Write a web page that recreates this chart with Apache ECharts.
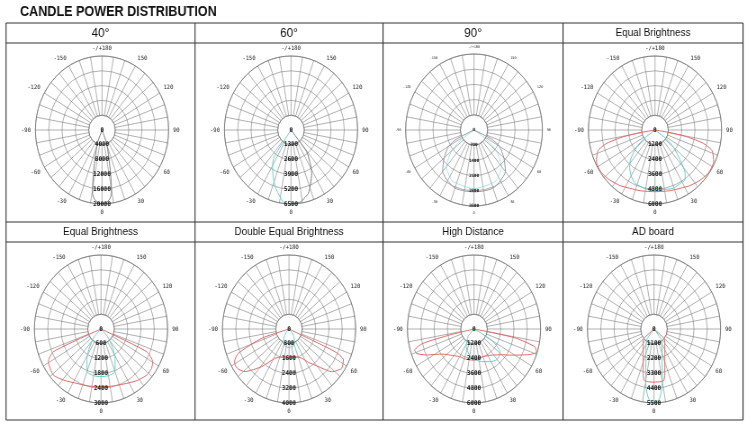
<!DOCTYPE html>
<html><head><meta charset="utf-8">
<script src="https://cdn.jsdelivr.net/npm/echarts@6/dist/echarts.min.js"></script>
<style>
html,body{margin:0;padding:0;background:#fff;overflow:hidden}
#wrap{width:750px;height:428px;overflow:hidden}
#chart{width:834px;height:428px;transform:scaleX(0.9);transform-origin:0 0}
</style></head>
<body><div id="wrap"><div id="chart"></div></div>
<script>
// ---------- DATA ----------
const mainTitle = 'CANDLE POWER DISTRIBUTION';
const titles = ['40°', '60°', '90°', 'Equal Brightness', 'Equal Brightness', 'Double Equal Brightness', 'High Distance', 'AD board'];
const radialMax = [20000, 6500, 3500, 6000, 3000, 4000, 6000, 5500];
const angleTickValues = [0, 30, 60, 90, 120, 150, 180, 210, 240, 270, 300, 330];
const angleTickLabels = ['0', '30', '60', '90', '120', '150', '-/+180', '-150', '-120', '-90', '-60', '-30'];

// curves: [angle (deg, 0 = down, + = right), candela]
const p1Gray = [[-22,0],[-21.4,3860],[-18,5500],[-14.8,8400],[-12,12700],[-11,14500],[-9.5,17300],[-7,18800],[-4,19600],[0,20000],[4,19600],[7,18800],[9.5,17300],[11,14500],[12,12700],[14.8,8400],[18,5500],[21.4,3860],[22,0]];
const p2Cyan = [[-36,0],[-35,2870],[-30,3600],[-25,4200],[-20,4850],[-15,5450],[-7,6350],[0,6500]];
const p2Gray = [[0,6500],[8,6400],[12,6150],[17,5810],[22,5100],[28,4300],[33,3400],[38.7,2440],[39.5,0]];
const p3Gray = [[-68,0],[-65,1000],[-60,1500],[-50,2000],[-40,2500],[-30,2700],[-20,2850],[-10,2850],[0,2850],[10,2850],[20,2850],[30,2700],[40,2500],[50,2000],[60,1500],[65,1000],[68,0]];
const p3Cyan = [[-57,0],[-55.5,810],[-50,1500],[-40,2200],[-25,2600],[0,2700],[25,2600],[40,2200],[50,1500],[55.5,810],[57,0]];
const p4Red = [[-83,0],[-81,1500],[-79,3000],[-76,4500],[-72,5400],[-64,5880],[-57,5950],[-52,5900],[-45,5750],[-35,5500],[-26,5250],[-15,5100],[0,5000],[15,5100],[26,5250],[35,5500],[45,5750],[52,5900],[57,5950],[64,5880],[72,5400],[76,4500],[79,3000],[81,1500],[83,0]];
const p4Cyan = [[-62,0],[-55,1200],[-50,2200],[-43,3200],[-37,3800],[-30,4300],[-22,4700],[-10,4850],[0,4950],[10,4900],[19,5000],[27,4900],[34,4850],[38,4400],[43,3300],[50,2200],[55,1200],[62,0]];
const p5Red = [[-67.5,0],[-66.8,2340],[-60.8,2720],[-49,2845],[-38,2650],[-26.4,2460],[-14,2380],[0,2340],[14,2380],[27.8,2490],[38,2650],[47.8,2780],[55,2780],[60.3,2680],[65.9,2250],[66.5,0]];
const p5Cyan = [[-46,0],[-44,430],[-35,900],[-28,1350],[-20,1840],[-10,1920],[0,1930],[10,1920],[20,1840],[28,1350],[35,900],[44,430],[46,0]];
const p6Red = [[-73,0],[-73,1710],[-66.7,3310],[-62,3700],[-59,3780],[-55,3750],[-49,3510],[-39,2615],[-28,1795],[-15,1560],[0,1500],[15,1560],[26,1760],[33,2150],[41,2690],[48,3450],[56,3810],[63,3670],[66,3020],[66.4,1490],[67,0]];
const p6Cyan = [[-50,0],[-45,200],[-35,500],[-25,800],[-15,950],[0,1000],[15,950],[25,800],[35,500],[45,200],[50,0]];
const p7Red = [[-80,0],[-77.5,2245],[-75.8,4740],[-72.3,5610],[-69.2,5560],[-64,4800],[-54,3460],[-45,3000],[-30,2590],[-16,2555],[0,2530],[10,2450],[20,2385],[30,2500],[39,2715],[50,3250],[58,4000],[64.5,4890],[68,5500],[71.6,5950],[75.3,5650],[78.8,3885],[80,1740],[81,0]];
const p7Cyan = [[-45,0],[-41,825],[-26,1600],[-8,2270],[5,2550],[17,2770],[30,3050],[39,3220],[46,3150],[52,2960],[59,2000],[62,800],[64,0]];
const p8Red = [[-52,0],[-50,1100],[-45,1260],[-35,1555],[-25,2110],[-20,2610],[-15,3450],[-12,3900],[-8,3950],[0,3950],[8,3950],[12,3900],[15,3450],[20,2610],[25,2110],[35,1555],[45,1260],[50,1100],[52,0]];
const p8Cyan = [[-45,0],[-38,900],[-30,1300],[-20,1950],[-15,2600],[-12,3300],[-9,4300],[-6,5000],[-4,5300],[0,5450],[4,5300],[6,5000],[9,4300],[12,3300],[15,2600],[20,1950],[30,1300],[38,900],[45,0]];

// ---------- STYLE / LAYOUT ----------
const RED = '#e06a6a', CYAN = '#5fd3c9', GRAY = '#7d7d7d', GRID = '#707070';
const panelCurves = [
  [[p1Gray, GRAY, 1]],
  [[p2Cyan, CYAN, 1], [p2Gray, GRAY, 1]],
  [[p3Cyan, CYAN, 0.5], [p3Gray, '#9a9a9a', 1]],
  [[p4Cyan, CYAN, 1], [p4Red, RED, 1]],
  [[p5Cyan, CYAN, 1], [p5Red, RED, 1]],
  [[p6Cyan, CYAN, 1], [p6Red, RED, 1]],
  [[p7Cyan, CYAN, 1], [p7Red, RED, 1]],
  [[p8Cyan, CYAN, 1], [p8Red, RED, 1]]
];
const SX = 0.9; // horizontal squeeze of the whole picture
const centersReal = [[102,130],[291,130],[474,130],[655,130],[101,329],[289,329],[474,329],[654,329]];
const outerR = [74,74,76,74,74,74,74,74];
const angleFont = [6,6,3.6,6,6,6,6,6];
const ringFont = [6.5,6.5,4.5,6.5,6.5,6.5,6.5,6.5];
const headerFont = [13,13,13,11,11,11,11,11];
const colX = [6,195,383,563,743];
const rowY = [23,43,222,242,420];

const polar = [], angleAxis = [], radiusAxis = [], series = [];
centersReal.forEach((c, i) => {
  const R = outerR[i], M = radialMax[i], step = M / 5;
  const center = [c[0] / SX, c[1]];
  // grid polar (hub ring to outer ring)
  polar.push({ center: center, radius: [R / 5, R] });
  angleAxis.push({
    polarIndex: 2 * i, type: 'value', min: 0, max: 360, interval: 10,
    startAngle: 270, clockwise: false,
    axisLine: { show: true, lineStyle: { color: GRID, width: 0.7 } },
    axisTick: { show: false },
    splitLine: { show: true, lineStyle: { color: GRID, width: 0.55 } },
    axisLabel: {
      margin: 5, fontSize: angleFont[i], fontFamily: 'DejaVu Sans Mono', color: '#222',
      formatter: v => { const k = angleTickValues.indexOf(v); return k < 0 ? '' : angleTickLabels[k]; }
    }
  });
  radiusAxis.push({
    polarIndex: 2 * i, type: 'value', min: step, max: M, interval: step,
    axisLine: { show: false }, axisTick: { show: false }, axisLabel: { show: false },
    splitLine: { show: true, lineStyle: { color: GRID, width: 0.55 } }
  });
  // data polar
  polar.push({ center: center, radius: [0, R] });
  angleAxis.push({ polarIndex: 2 * i + 1, type: 'value', min: 0, max: 360, startAngle: 270, clockwise: false, show: false });
  radiusAxis.push({
    polarIndex: 2 * i + 1, type: 'value', min: 0, max: M, interval: step, z: 10,
    axisLine: { show: false }, axisTick: { show: false }, splitLine: { show: false },
    axisLabel: { margin: 0, align: 'center', verticalAlign: 'middle', fontSize: ringFont[i],
      fontWeight: 'bold', fontFamily: 'DejaVu Sans Mono', color: '#111',
      formatter: v => String(v) }
  });
  panelCurves[i].forEach(([pts, color, op]) => {
    series.push({
      type: 'line', coordinateSystem: 'polar', polarIndex: 2 * i + 1,
      data: pts.map(([a, v]) => [v, a < 0 ? a + 360 : a]),
      showSymbol: false, symbol: 'none', smooth: 0.2, silent: true, z: 3,
      lineStyle: { color: color, width: 1, opacity: op }, itemStyle: { color: color }
    });
  });
});

const graphic = [];
graphic.push({ type: 'text', x: 20 / SX, y: 12.5,
  style: { text: mainTitle, font: 'bold 14px "Liberation Sans", Arial, sans-serif', fill: '#111', align: 'left', verticalAlign: 'middle' } });
// table lines
rowY.forEach(y => {
  graphic.push({ type: 'line', shape: { x1: colX[0] / SX, y1: y, x2: colX[4] / SX, y2: y }, style: { stroke: '#333', lineWidth: 1 } });
});
colX.forEach(x => {
  graphic.push({ type: 'line', shape: { x1: x / SX, y1: rowY[0], x2: x / SX, y2: rowY[4] }, style: { stroke: '#333', lineWidth: 1.1 } });
});
titles.forEach((t, i) => {
  const col = i % 4, row = Math.floor(i / 4);
  const x = (colX[col] + colX[col + 1]) / 2 / SX;
  const y = row === 0 ? (rowY[0] + rowY[1]) / 2 : (rowY[2] + rowY[3]) / 2;
  graphic.push({ type: 'text', x: x, y: y,
    style: { text: t, font: headerFont[i] + 'px "Liberation Sans", Arial, sans-serif', fill: '#111', align: 'center', verticalAlign: 'middle' } });
});

const chart = echarts.init(document.getElementById('chart'), null, { renderer: 'canvas' });
chart.setOption({
  animation: false,
  backgroundColor: '#fff',
  polar: polar, angleAxis: angleAxis, radiusAxis: radiusAxis,
  series: series, graphic: graphic
});
</script></body></html>
